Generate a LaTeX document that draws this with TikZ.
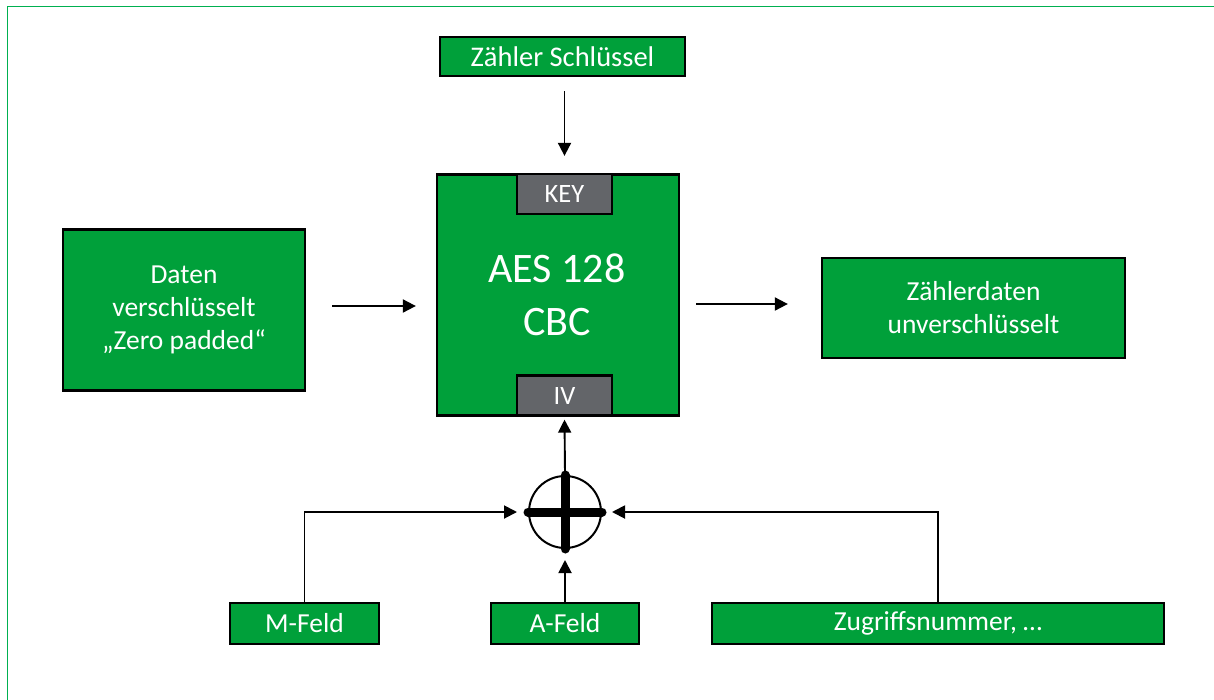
\documentclass[tikz,border=0pt]{standalone}
\usepackage{fontspec}
\setmainfont{Carlito}
\usetikzlibrary{arrows.meta,calc}
\definecolor{boxgreen}{RGB}{0,160,58}
\definecolor{framegreen}{RGB}{0,176,80}
\definecolor{keygray}{RGB}{99,101,105}
\tikzset{
  gbox/.style={draw=black, line width=2.3pt, fill=boxgreen, text=white, inner sep=0pt, align=center,
    font=\fontsize{27.5}{33}\selectfont},
  kbox/.style={draw=black, line width=2.3pt, fill=keygray, text=white, inner sep=0pt,
    font=\fontsize{26.5}{32}\selectfont},
  arr/.style={draw=black, line width=1.9pt, -{Triangle[length=13pt,width=13pt]}},
}
\begin{document}
\begin{tikzpicture}[x=1pt,y=-1pt]
\useasboundingbox (0,0) rectangle (1214,699);
\fill[white] (0,0) rectangle (1214,699);
\begin{scope}
\clip (0,0) rectangle (1214,699);
\draw[framegreen, line width=1.6pt] (1300,6.3) -- (7.3,6.3) -- (7.3,800);
\end{scope}

% nodes
\node[gbox, minimum width=245, minimum height=39, font=\fontsize{28.5}{33}\selectfont] (zs) at (562.5,56.5) {Zähler Schlüssel};
\node[gbox, minimum width=242, minimum height=241] (aes) at (558,295) {};
\node[text=white, align=center, font=\fontsize{42}{53}\selectfont] (aestext) at (557,295) {AES 128\\CBC};
\node[kbox, minimum width=95, minimum height=40] (key) at (564.5,194) {KEY};
\node[kbox, minimum width=95, minimum height=40] (iv) at (564.5,395.5) {IV};
\node[gbox, minimum width=242, minimum height=161] (daten) at (184,310) {Daten\\verschlüsselt\\„Zero padded“};
\node[gbox, minimum width=303, minimum height=100] (out) at (973.5,308) {Zählerdaten\\unverschlüsselt};
\node[draw=black, line width=2pt, circle, minimum size=72pt, inner sep=0pt, fill=white] (xor) at (565,512) {};
\draw[line width=9pt, line cap=round] (xor.west) -- (xor.east);
\draw[line width=9pt, line cap=round] (xor.north) -- (xor.south);
\node[gbox, minimum width=149, minimum height=41] (mfeld) at (304.5,623.5) {M-Feld};
\node[gbox, minimum width=148, minimum height=41] (afeld) at (565,623.5) {A-Feld};
\node[gbox, minimum width=452, minimum height=41] (zug) at (938,623.5) {Zugriffsnummer, …};

% connectors
\draw[arr, shorten <=14pt, shorten >=17pt] (zs.south -| key.north) -- (key.north);
\draw[arr, shorten <=26pt, shorten >=20pt] (daten.east |- 0,306) -- (aes.west |- 0,306);
\draw[arr, shorten <=16pt, shorten >=33pt] (aes.east |- 0,304) -- (out.west |- 0,304);
\draw[arr, shorten >=3pt] (xor.north) -- (iv.south);
\draw[arr, shorten >=11pt] (mfeld.north) |- (xor.west);
\draw[arr, shorten >=11pt] (afeld.north) -- (xor.south);
\draw[arr, shorten >=10pt] (zug.north) |- (xor.east);
\end{tikzpicture}
\end{document}
